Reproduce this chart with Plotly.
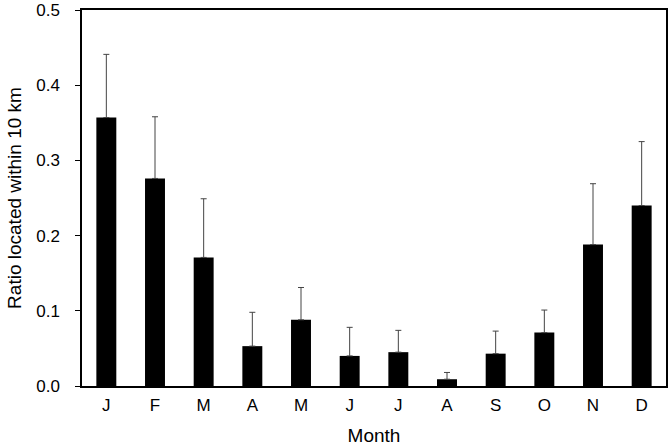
import plotly.graph_objects as go

months = ["J", "F", "M", "A", "M", "J", "J", "A", "S", "O", "N", "D"]
ratio = [0.357, 0.276, 0.171, 0.053, 0.088, 0.040, 0.045, 0.009, 0.043, 0.071, 0.188, 0.240]
upper = [0.441, 0.358, 0.249, 0.098, 0.131, 0.078, 0.074, 0.018, 0.073, 0.101, 0.269, 0.325]

# duplicate letters need distinct category positions
xpos = list(range(len(months)))
err_plus = [u - r for u, r in zip(upper, ratio)]

FONT = "Liberation Sans, Arial, sans-serif"

fig = go.Figure()
fig.add_trace(go.Bar(
    x=xpos, y=ratio,
    marker=dict(color="black", line=dict(width=0)),
    error_y=dict(type="data", symmetric=False, array=err_plus,
                 arrayminus=[0] * len(ratio),
                 color="#444444", thickness=1, width=3),
    width=0.41,
))

fig.update_xaxes(
    range=[-0.5, 11.5], automargin=False,
    tickmode="array", tickvals=xpos, ticktext=months,
    showline=True, linecolor="black", linewidth=1.5, mirror=True,
    ticks="", showgrid=False, zeroline=False,
    ticklabelstandoff=3,
    tickfont=dict(family=FONT, size=17, color="black"),
    title=dict(text="Month", font=dict(family=FONT, size=19, color="black"), standoff=16),
)
fig.update_yaxes(
    range=[0, 0.5], automargin=False,
    tickvals=[0, 0.1, 0.2, 0.3, 0.4, 0.5], tickformat=".1f",
    showline=True, linecolor="black", linewidth=1.5, mirror=True,
    ticks="outside", ticklen=5, tickcolor="black", tickwidth=1,
    showgrid=False, zeroline=False,
    ticklabelstandoff=12,
    tickfont=dict(family=FONT, size=17, color="black"),
    title=dict(text="Ratio located within 10 km", font=dict(family=FONT, size=19, color="black"), standoff=10),
)

fig.update_layout(
    width=672, height=446,
    margin=dict(l=82, r=6, t=10, b=60),
    plot_bgcolor="white", paper_bgcolor="white",
    showlegend=False,
)

fig.write_html("out.html", config={"displayModeBar": False},
               post_script="document.body.style.margin='0';")
